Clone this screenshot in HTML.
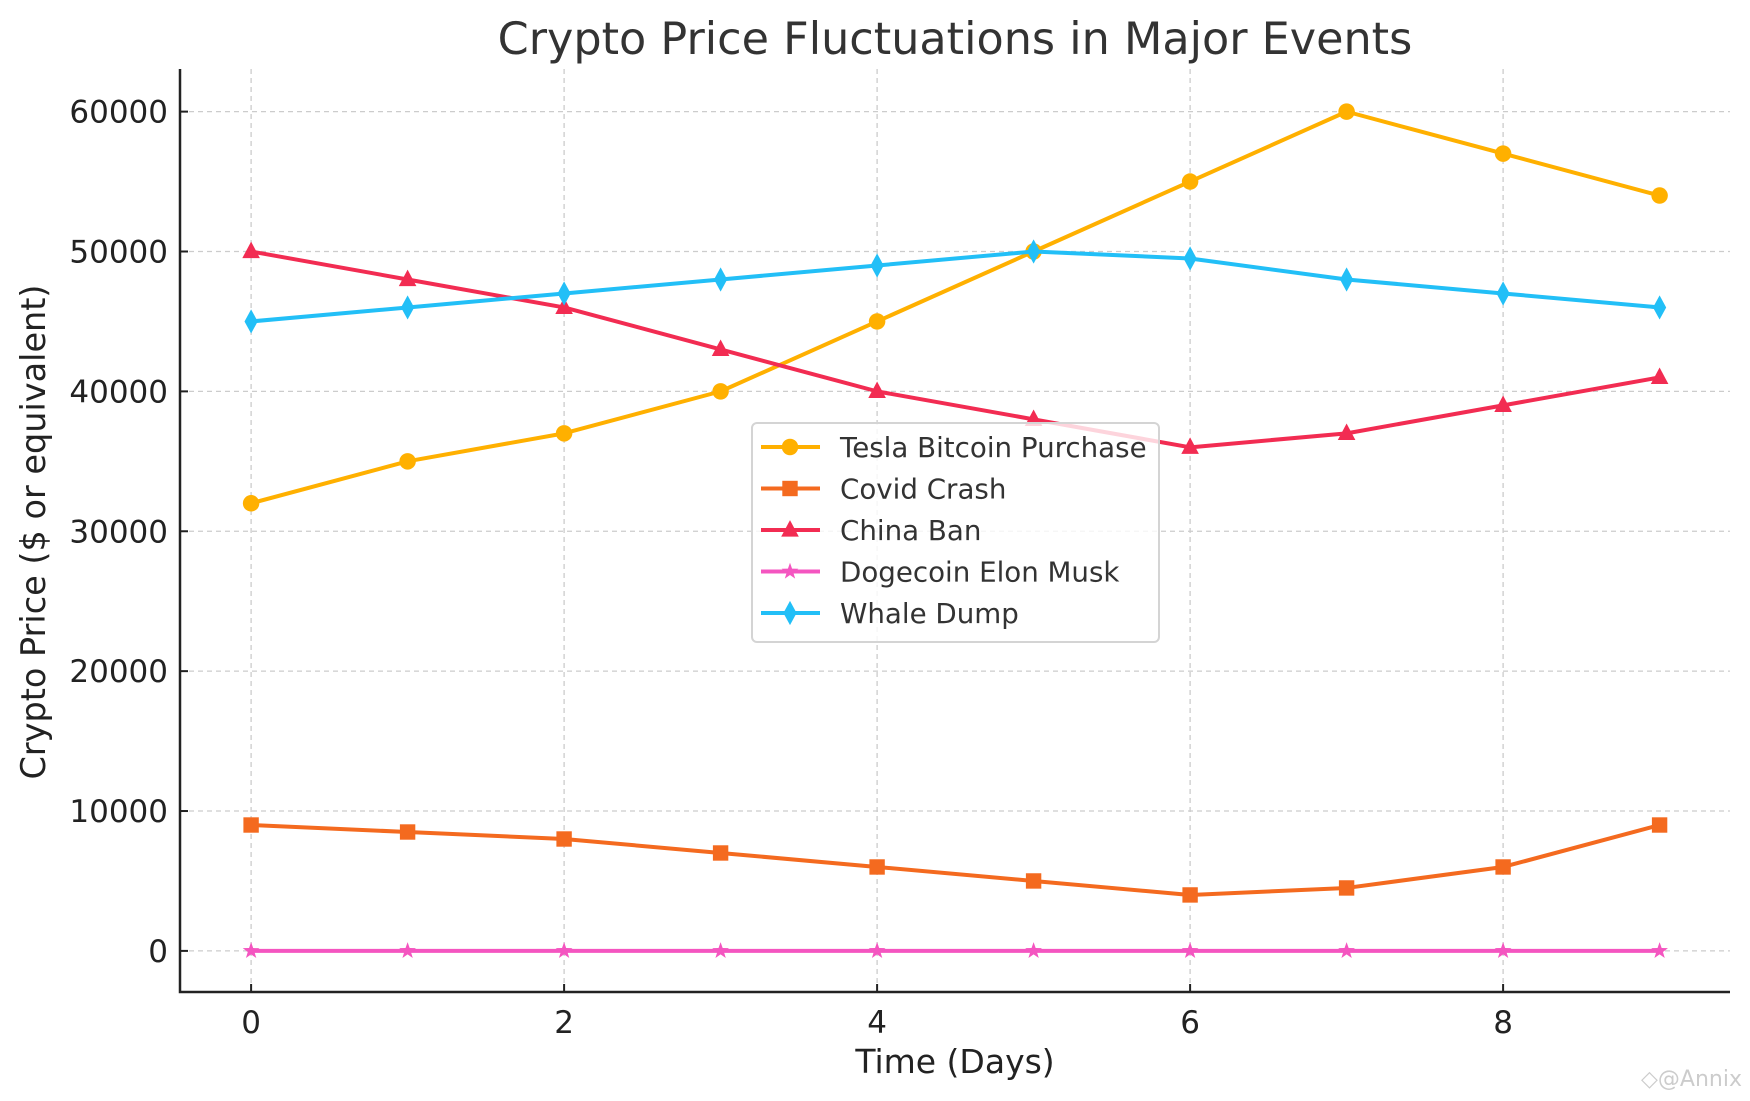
<!DOCTYPE html>
<html><head><meta charset="utf-8"><style>
html,body{margin:0;padding:0;background:#fff}
svg{display:block;font-family:"DejaVu Sans","Liberation Sans",sans-serif}
</style></head><body>
<svg id="chart" width="1750" height="1101" viewBox="0 0 1750 1101">
<text x="955" y="54" text-anchor="middle" font-size="44.5" fill="#333">Crypto Price Fluctuations in Major Events</text>
<g id="grid"></g>
<g id="axes"></g>
<g id="series"></g>
<text x="955" y="1073" text-anchor="middle" font-size="33" fill="#222">Time (Days)</text>
<text transform="translate(45,532) rotate(-90)" text-anchor="middle" font-size="33.5" fill="#222">Crypto Price ($ or equivalent)</text>
<g id="legend"></g>
<text x="1742" y="1086" text-anchor="end" font-size="22" fill="#ccc">◇@Annix</text>
</svg>
<script>
const days=[0,1,2,3,4,5,6,7,8,9];
const tesla=[32000,35000,37000,40000,45000,50000,55000,60000,57000,54000];
const covid=[9000,8500,8000,7000,6000,5000,4000,4500,6000,9000];
const china=[50000,48000,46000,43000,40000,38000,36000,37000,39000,41000];
const doge=[0.1,0.1,0.1,0.1,0.1,0.1,0.1,0.1,0.1,0.1];
const whale=[45000,46000,47000,48000,49000,50000,49500,48000,47000,46000];
const seriesNames=["Tesla Bitcoin Purchase","Covid Crash","China Ban","Dogecoin Elon Musk","Whale Dump"];
const xTicks=[0,2,4,6,8];
const yTicks=[0,10000,20000,30000,40000,50000,60000];

const NS="http://www.w3.org/2000/svg";
const L=180,R=1730,T=69,B=992;
const x=v=>251.1+v*156.5;
const y=v=>950.9-v*0.013988;
function mk(tag,attrs,parent){const e=document.createElementNS(NS,tag);for(const k in attrs)e.setAttribute(k,attrs[k]);parent.appendChild(e);return e;}
const grid=document.getElementById('grid'),axes=document.getElementById('axes'),ser=document.getElementById('series'),leg=document.getElementById('legend');

xTicks.forEach(t=>{
 const g=mk('line',{x1:x(t),x2:x(t),y1:T,y2:B,stroke:'#ccc','stroke-width':1.3,'stroke-dasharray':'5,4'},grid);
 
 
 const tk=mk('line',{x1:x(t),x2:x(t),y1:B,y2:B-8,stroke:'#222','stroke-width':2},axes);
 
 
 const lb=mk('text',{x:x(t),y:B+41,'text-anchor':'middle','font-size':31,fill:'#222'},axes);
 lb.textContent=t;
 
 
});
yTicks.forEach(t=>{
 const g=mk('line',{x1:L,x2:R,y1:y(t),y2:y(t),stroke:'#ccc','stroke-width':1.3,'stroke-dasharray':'5,4'},grid);
 
 
 const tk=mk('line',{x1:L,x2:L+8,y1:y(t),y2:y(t),stroke:'#222','stroke-width':2},axes);
 
 
 const lb=mk('text',{x:L-12,y:y(t)+11,'text-anchor':'end','font-size':31,fill:'#222'},axes);
 lb.textContent=t;
 
 
});
const ax=mk('path',{d:`M${L} ${T}V${B}H${R}`,fill:'none',stroke:'#222','stroke-width':2.5},axes);



function marker(type,cx,cy,color,parent,s){
 s=s||1.1;
 if(type==='circle')return mk('circle',{cx,cy,r:7.5*s,fill:color},parent);
 if(type==='square')return mk('rect',{x:cx-7*s,y:cy-7*s,width:14*s,height:14*s,fill:color},parent);
 if(type==='triangle')return mk('path',{d:`M${cx} ${cy-9*s}L${cx+8*s} ${cy+6*s}L${cx-8*s} ${cy+6*s}Z`,fill:color},parent);
 if(type==='star'){let p='';for(let i=0;i<10;i++){const r=i%2?3.2*s:8*s;const a=-Math.PI/2+i*Math.PI/5;p+=(i?'L':'M')+(cx+r*Math.cos(a))+' '+(cy+r*Math.sin(a));}return mk('path',{d:p+'Z',fill:color},parent);}
 return mk('path',{d:`M${cx} ${cy-11*s}L${cx+6*s} ${cy}L${cx} ${cy+11*s}L${cx-6*s} ${cy}Z`,fill:color},parent);
}
const all=[tesla,covid,china,doge,whale];
const colors=['#FFB000','#F46A1F','#F22C52','#F455C0','#22BFF7'];
const markers=['circle','square','triangle','star','diamond'];
const keys=['tesla','covid','china','doge','whale'];
all.forEach((vals,i)=>{
 const g=mk('g',{},ser);
 
 
 const ln=mk('polyline',{points:vals.map((v,j)=>x(days[j])+','+y(v)).join(' '),fill:'none',stroke:colors[i],'stroke-width':4,'stroke-linejoin':'round'},g);
 
 
 vals.forEach((v,j)=>{
  const m=marker(markers[i],x(days[j]),y(v),colors[i],g);
  
  
 });
});
const box=mk('rect',{x:752,y:423,width:407,height:219,rx:5,fill:'rgba(255,255,255,0.8)',stroke:'#d4d4d4','stroke-width':2},leg);


seriesNames.forEach((n,i)=>{
 const yy=447+i*41.5;
 const g=mk('g',{},leg);
 
 
 mk('line',{x1:761,x2:820,y1:yy,y2:yy,stroke:colors[i],'stroke-width':4},g);
 marker(markers[i],790,yy,colors[i],g);
 const t=mk('text',{x:840,y:yy+10,'font-size':27.7,fill:'#333'},g);
 t.textContent=n;
});
</script>
</body></html>
